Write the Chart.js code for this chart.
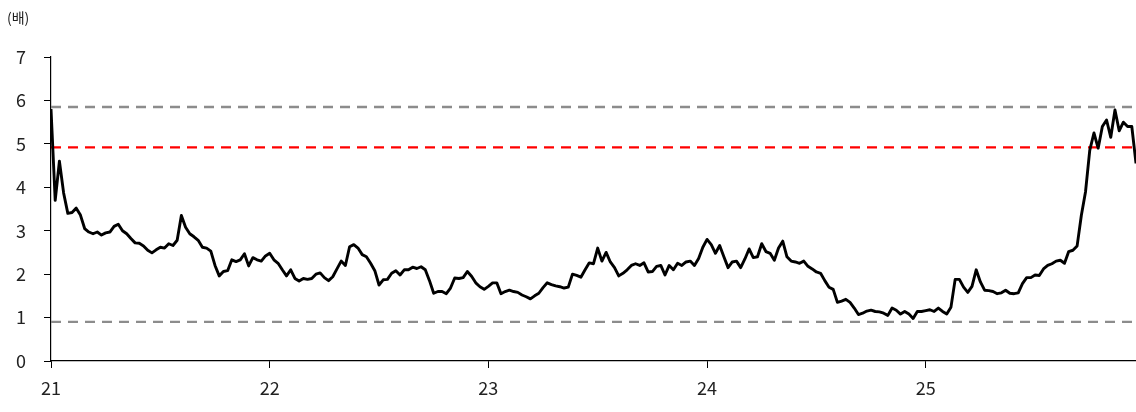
<!DOCTYPE html>
<html>
<head>
<meta charset="utf-8">
<script src="https://cdn.jsdelivr.net/npm/chart.js@4.4.1/dist/chart.umd.min.js"></script>
<style>
  html, body { margin: 0; padding: 0; background: #fff; }
</style>
</head>
<body>
<canvas id="pbrChart" width="1136" height="412"></canvas>
<script>
// Year tick labels (start of each year)
const yearLabels = ['21', '22', '23', '24', '25'];
// Y axis ticks
const yTicks = [0, 1, 2, 3, 4, 5, 6, 7];
// Reference lines (배)
const upperBand = 5.85;
const avgLine = 4.92;
const lowerBand = 0.9;

// Weekly PBR values, Jan 2021 -> Dec 2025
const pbr = [
  5.8, 3.7, 4.6, 3.87, 3.4, 3.42, 3.52, 3.36, 3.05, 2.97,
  2.93, 2.97, 2.9, 2.95, 2.97, 3.1, 3.15, 3.0, 2.93, 2.82,
  2.72, 2.71, 2.65, 2.55, 2.49, 2.56, 2.62, 2.6, 2.7, 2.66,
  2.78, 3.35, 3.08, 2.93, 2.86, 2.78, 2.62, 2.6, 2.53, 2.2,
  1.96, 2.06, 2.08, 2.33, 2.29, 2.33, 2.47, 2.19, 2.38, 2.33,
  2.3, 2.42,
  // 2022
  2.48, 2.33, 2.25, 2.1, 1.96, 2.1, 1.9, 1.84, 1.9, 1.88,
  1.9, 2.0, 2.03, 1.92, 1.85, 1.94, 2.12, 2.3, 2.2, 2.63,
  2.68, 2.6, 2.45, 2.4, 2.25, 2.08, 1.75, 1.87, 1.88, 2.02,
  2.08, 1.98, 2.1, 2.1, 2.16, 2.13, 2.17, 2.1, 1.85, 1.56,
  1.6, 1.6, 1.55, 1.68, 1.91, 1.9, 1.92, 2.06, 1.95, 1.8,
  1.71, 1.65,
  // 2023
  1.72, 1.8, 1.8, 1.55, 1.6, 1.63, 1.6, 1.58, 1.52, 1.48,
  1.43, 1.5, 1.56, 1.69, 1.8, 1.76, 1.73, 1.71, 1.68, 1.7,
  2.0, 1.97, 1.93, 2.1, 2.26, 2.24, 2.6, 2.3, 2.5, 2.28,
  2.15, 1.96, 2.02, 2.1, 2.2, 2.24, 2.2, 2.26, 2.05, 2.06,
  2.18, 2.2, 1.98, 2.2, 2.1, 2.25, 2.2, 2.28, 2.3, 2.2,
  2.36, 2.62,
  // 2024
  2.8, 2.68, 2.48, 2.66, 2.4, 2.15, 2.28, 2.3, 2.15, 2.35,
  2.58, 2.38, 2.4, 2.7, 2.52, 2.48, 2.32, 2.6, 2.76, 2.4,
  2.3, 2.28, 2.25, 2.3, 2.18, 2.12, 2.05, 2.02, 1.85, 1.7,
  1.65, 1.35, 1.38, 1.42, 1.35, 1.22, 1.07, 1.1, 1.15, 1.17,
  1.14, 1.13, 1.1, 1.05, 1.22, 1.17, 1.08, 1.14, 1.08, 0.98,
  1.14, 1.14,
  // 2025
  1.16, 1.18, 1.14, 1.22, 1.14, 1.08, 1.24, 1.88, 1.88, 1.7,
  1.58, 1.72, 2.1, 1.82, 1.63, 1.62, 1.6, 1.55, 1.57, 1.63,
  1.56, 1.55, 1.57, 1.78, 1.92, 1.92, 1.98, 1.97, 2.12, 2.2,
  2.24, 2.3, 2.32, 2.25, 2.52, 2.55, 2.65, 3.35, 3.9, 4.85,
  5.25, 4.9, 5.4, 5.55, 5.15, 5.78, 5.3, 5.5, 5.4, 5.4,
  4.55
];

// x in years since Jan 2021 (one point per week)
const lineData = pbr.map((v, i) => ({ x: i / 52, y: v }));
const xMax = (pbr.length - 1) / 52;
const flat = v => [{ x: 0, y: v }, { x: xMax, y: v }];

// Small "(배)" unit label in the top-left corner
const unitLabel = {
  id: 'unitLabel',
  afterDraw(chart) {
    const ctx = chart.ctx;
    ctx.save();
    ctx.font = '14px "Noto Sans CJK KR"';
    ctx.fillStyle = '#222';
    ctx.textBaseline = 'middle';
    ctx.fillText('(배)', 7, 18);
    ctx.restore();
  }
};

new Chart(document.getElementById('pbrChart'), {
  type: 'line',
  data: {
    datasets: [
      {
        data: lineData,
        borderColor: '#000',
        borderWidth: 2.9,
        pointRadius: 0,
        borderJoinStyle: 'round',
        tension: 0
      },
      {
        data: flat(avgLine),
        borderColor: '#ff0000',
        borderWidth: 2.4,
        borderDash: [10, 7],
        pointRadius: 0
      },
      {
        data: flat(upperBand),
        borderColor: '#8c8c8c',
        borderWidth: 2.4,
        borderDash: [10, 7],
        pointRadius: 0
      },
      {
        data: flat(lowerBand),
        borderColor: '#8c8c8c',
        borderWidth: 2.4,
        borderDash: [10, 7],
        pointRadius: 0
      }
    ]
  },
  options: {
    responsive: false,
    animation: false,
    layout: { padding: { top: 57, right: 0, left: 0, bottom: 0 } },
    plugins: { legend: { display: false }, tooltip: { enabled: false } },
    scales: {
      x: {
        type: 'linear',
        min: 0,
        max: xMax,
        afterBuildTicks: s => { s.ticks = yearLabels.map((_, i) => ({ value: i })); },
        afterFit: s => { s.height = 51; },
        grid: { drawOnChartArea: false, drawTicks: true, tickLength: 7, color: '#000' },
        border: { color: '#000', width: 1.2 },
        ticks: {
          padding: 9,
          color: '#222',
          font: { family: '"Noto Sans CJK KR"', size: 18 },
          callback: (v, i) => yearLabels[i]
        }
      },
      y: {
        min: 0,
        max: 7,
        afterBuildTicks: s => { s.ticks = yTicks.map(v => ({ value: v })); },
        afterFit: s => { s.width = 51; },
        grid: { drawOnChartArea: false, drawTicks: true, tickLength: 7, color: '#000' },
        border: { color: '#000', width: 1.2 },
        ticks: {
          padding: 18,
          color: '#222',
          font: { family: '"Noto Sans CJK KR"', size: 18 }
        }
      }
    }
  },
  plugins: [unitLabel]
});
</script>
</body>
</html>
